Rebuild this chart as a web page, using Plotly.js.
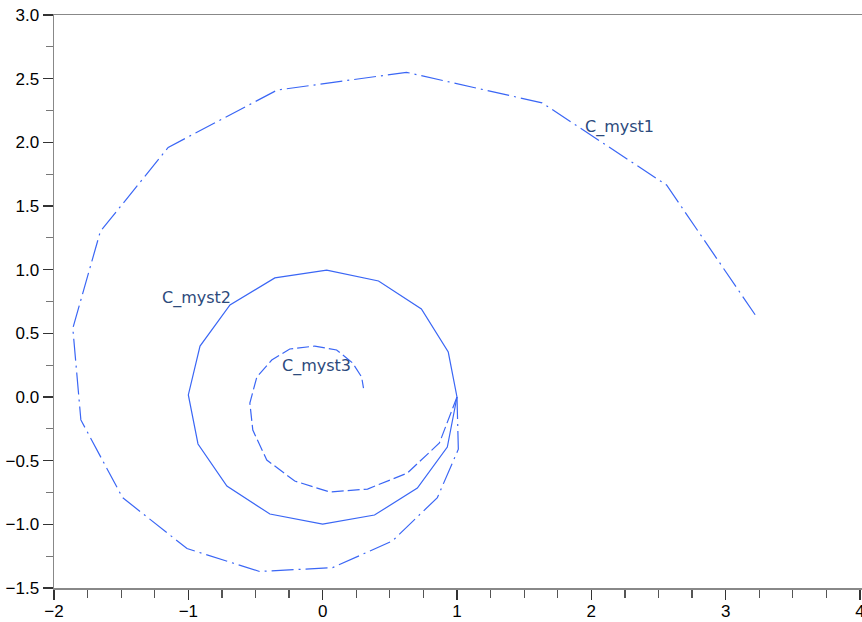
<!DOCTYPE html>
<html>
<head>
<meta charset="utf-8">
<script src="https://cdn.plot.ly/plotly-3.0.1.min.js"></script>
<style>html,body{margin:0;padding:0;background:#fff;}#chart{width:862px;height:622px;}</style>
</head>
<body>
<div id="chart"></div>
<script>
// C_myst1 (dash-dot spiral, growing)
const myst1X = [1.0, 1.01, 0.854, 0.52, 0.074, -0.47, -1.01, -1.49, -1.80, -1.86, -1.655, -1.15, -0.34, 0.624, 1.633, 2.56, 3.23];
const myst1Y = [0.0, -0.41, -0.79, -1.13, -1.34, -1.37, -1.19, -0.79, -0.18, 0.54, 1.30, 1.96, 2.41, 2.55, 2.31, 1.665, 0.63];
// C_myst2 (solid, unit circle)
const myst2X = [1.0, 0.935, 0.735, 0.416, 0.03, -0.356, -0.69, -0.913, -1.0, -0.928, -0.713, -0.393, 0.0, 0.386, 0.705, 0.928, 1.0];
const myst2Y = [0.0, 0.353, 0.691, 0.911, 0.997, 0.935, 0.723, 0.40, 0.016, -0.369, -0.699, -0.919, -0.998, -0.927, -0.715, -0.393, 0.0];
// C_myst3 (dashed spiral, shrinking)
const myst3X = [1.0, 0.869, 0.631, 0.334, 0.052, -0.208, -0.416, -0.52, -0.542, -0.49, -0.379, -0.245, -0.059, 0.104, 0.223, 0.29, 0.304];
const myst3Y = [0.0, -0.361, -0.597, -0.723, -0.746, -0.66, -0.495, -0.26, -0.047, 0.157, 0.29, 0.377, 0.40, 0.369, 0.267, 0.157, 0.07];
// labels
const labelText = ["C_myst1", "C_myst2", "C_myst3"];
const labelX = [2.21, -0.94, -0.045];
const labelY = [2.12, 0.78, 0.245];
// tick labels
const xTickVals = [-2, -1, 0, 1, 2, 3, 4];
const xTickText = ['\u22122', '\u22121', '0', '1', '2', '3', '4'];
const yTickVals = [-1.5, -1, -0.5, 0, 0.5, 1, 1.5, 2, 2.5, 3];
const yTickText = ['\u22121.5', '\u22121.0', '\u22120.5', '0.0', '0.5', '1.0', '1.5', '2.0', '2.5', '3.0'];

const lineColor = '#3a66f5';
const traces = [
  {x: myst1X, y: myst1Y, mode: 'lines', line: {color: lineColor, width: 1.2, dash: '22px,5px,2px,5px'}, name: 'C_myst1'},
  {x: myst2X, y: myst2Y, mode: 'lines', line: {color: lineColor, width: 1.2}, name: 'C_myst2'},
  {x: myst3X, y: myst3Y, mode: 'lines', line: {color: lineColor, width: 1.2, dash: '12px,4px'}, name: 'C_myst3'}
];
const annotations = labelText.map((t, i) => ({
  x: labelX[i], y: labelY[i], xref: 'x', yref: 'y', text: t, showarrow: false,
  font: {family: 'DejaVu Sans', size: 16, color: '#2c4a7c'}
}));
function axis(extra) {
  return Object.assign({
    showgrid: false, zeroline: false, showline: true, linecolor: '#888', linewidth: 1.5,
    ticks: 'outside', ticklen: 10, tickwidth: 1.2, tickcolor: '#333',
    tickfont: {family: 'Liberation Sans', size: 17, color: '#000'},
    ticklabeloverflow: 'allow',
    automargin: false
  }, extra);
}
const layout = {
  width: 862, height: 622,
  font: {family: 'Liberation Sans', size: 17, color: '#000'},
  margin: {l: 54, r: 0, t: 15, b: 34},
  showlegend: false,
  paper_bgcolor: '#fff', plot_bgcolor: '#fff',
  xaxis: axis({
    range: [-2, 4.015], tickmode: 'array', tickvals: xTickVals, ticktext: xTickText,
    mirror: true, ticklabelstandoff: -3,
    minor: {dtick: 0.25, tick0: 0, ticks: 'outside', ticklen: 8, tickcolor: '#555', tickwidth: 1.2, showgrid: false}
  }),
  yaxis: axis({
    range: [-1.5, 3.0], tickmode: 'array', tickvals: yTickVals, ticktext: yTickText,
    mirror: true,
    minor: {dtick: 0.25, tick0: 0, ticks: 'outside', ticklen: 7, tickcolor: '#777', tickwidth: 1.2, showgrid: false}
  }),
  annotations: annotations
};
Plotly.newPlot('chart', traces, layout, {displayModeBar: false, staticPlot: true});
</script>
</body>
</html>
